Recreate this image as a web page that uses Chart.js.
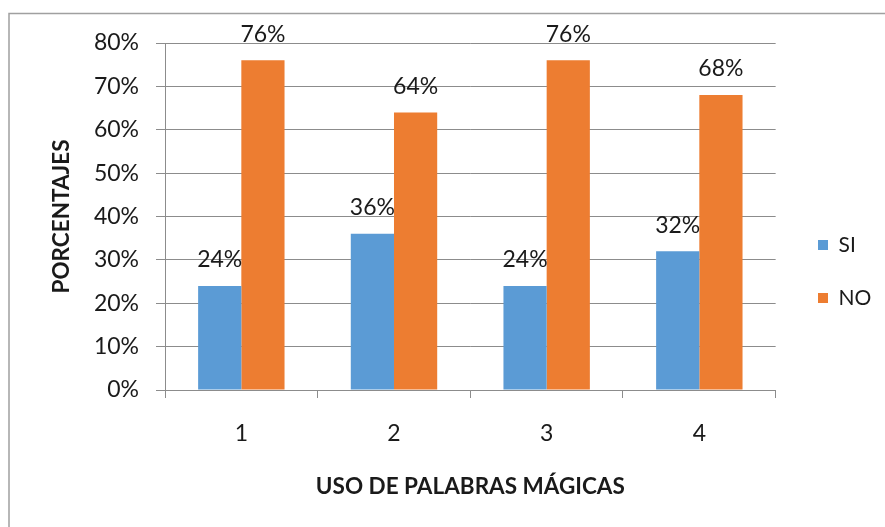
<!DOCTYPE html>
<html>
<head>
<meta charset="utf-8">
<script src="https://cdn.jsdelivr.net/npm/chart.js@4/dist/chart.umd.min.js"></script>
<style>
  html, body { margin: 0; padding: 0; background: #fff; }
  canvas { display: block; }
</style>
</head>
<body>
<canvas id="c" width="885" height="527"></canvas>
<script>
const categories = ['1', '2', '3', '4'];
const seriesSI = [24, 36, 24, 32];
const seriesNO = [76, 64, 76, 68];
const yTicks = [0, 10, 20, 30, 40, 50, 60, 70, 80];
const xTitle = 'USO DE PALABRAS MÁGICAS';
const yTitle = 'PORCENTAJES';

const FONT = 'Lato, "Open Sans", sans-serif';
const TEXT = '#1a1a1a';
const GRID = '#8c8c8c';

const borderPlugin = {
  id: 'outerBorder',
  beforeDraw(chart) {
    const ctx = chart.ctx;
    ctx.save();
    ctx.fillStyle = '#fff';
    ctx.fillRect(0, 0, chart.width, chart.height);
    ctx.strokeStyle = '#a0a0a0';
    ctx.lineWidth = 1.5;
    ctx.strokeRect(9, 13.5, 1000, 1000);
    ctx.restore();
  }
};

const valueLabels = {
  id: 'valueLabels',
  afterDatasetsDraw(chart) {
    const ctx = chart.ctx;
    ctx.save();
    ctx.font = '23px ' + FONT;
    ctx.fillStyle = TEXT;
    ctx.textAlign = 'center';
    ctx.textBaseline = 'middle';
    chart.data.datasets.forEach((ds, i) => {
      const meta = chart.getDatasetMeta(i);
      meta.data.forEach((bar, j) => {
        ctx.fillText(ds.data[j] + '%', bar.x, bar.y - 26);
      });
    });
    ctx.restore();
  }
};

const legendShift = {
  id: 'legendShift',
  afterLayout(chart) {
    const lg = chart.legend;
    const p = lg.options.labels.padding;
    const w = lg.right - lg.left;
    lg.left = 818 - p;
    lg.right = lg.left + w;
  }
};

new Chart(document.getElementById('c'), {
  type: 'bar',
  data: {
    labels: categories,
    datasets: [
      { label: 'SI', data: seriesSI, backgroundColor: '#5B9BD5', borderWidth: 0,
        categoryPercentage: 0.566, barPercentage: 1.0 },
      { label: 'NO', data: seriesNO, backgroundColor: '#ED7D31', borderWidth: 0,
        categoryPercentage: 0.566, barPercentage: 1.0 }
    ]
  },
  options: {
    responsive: false,
    animation: false,
    layout: { padding: { left: 10, top: 43, right: 14, bottom: 27 } },
    plugins: {
      legend: {
        position: 'right',
        labels: {
          boxWidth: 10, boxHeight: 10, padding: 32,
          color: TEXT, font: { family: FONT, size: 21 }
        }
      },
      tooltip: { enabled: false }
    },
    scales: {
      x: {
        grid: { drawOnChartArea: false, drawTicks: true, tickLength: 8, color: GRID, offset: true },
        border: { display: true, color: GRID },
        ticks: { color: TEXT, font: { family: FONT, size: 23 }, padding: 22 },
        title: { display: true, text: xTitle, color: TEXT,
                 font: { family: FONT, size: 22.5, weight: 'bold' }, padding: { top: 0, bottom: 0 } },
        afterFit(scale) { scale.height = 110; }
      },
      y: {
        min: 0, max: 80,
        afterBuildTicks(scale) { scale.ticks = yTicks.map(v => ({ value: v })); },
        grid: { color: GRID, tickLength: 9, drawTicks: true },
        border: { display: true, color: GRID },
        ticks: { color: TEXT, font: { family: FONT, size: 23 }, padding: 17,
                 callback: v => v + '%' },
        title: { display: true, text: yTitle, color: TEXT,
                 font: { family: FONT, size: 22.5, weight: 'bold' }, padding: { top: 38, bottom: 0 } },
        afterFit(scale) { scale.width = 155; }
      }
    }
  },
  plugins: [borderPlugin, valueLabels, legendShift]
});
</script>
</body>
</html>
